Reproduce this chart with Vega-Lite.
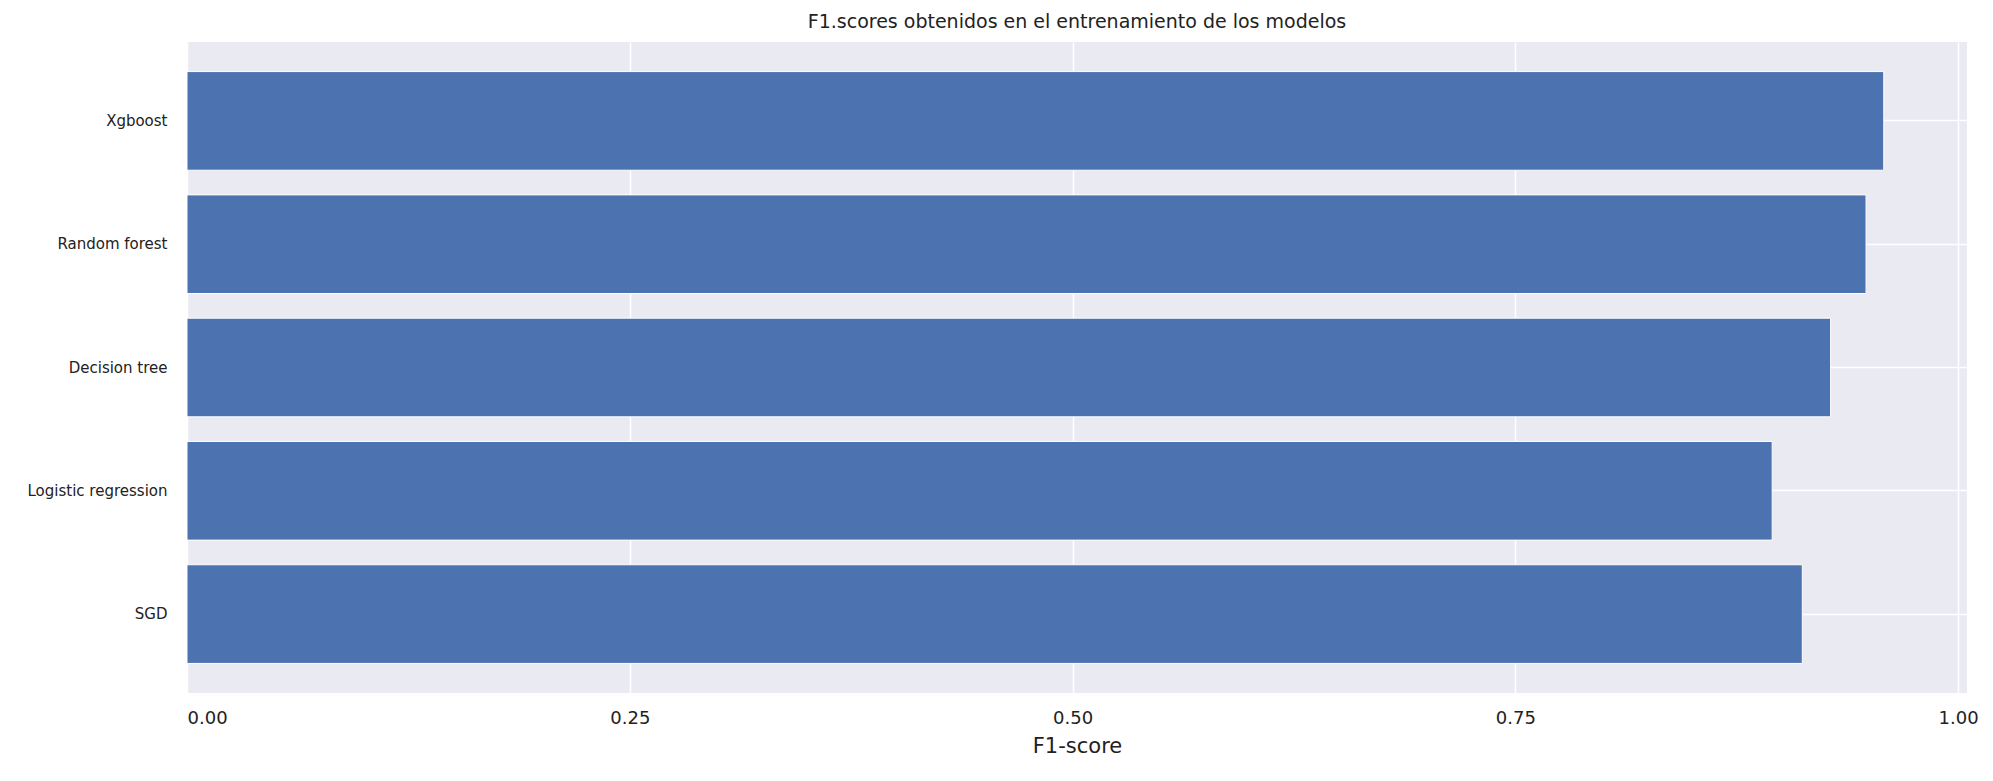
{
"$schema":"https://vega.github.io/schema/vega-lite/v6.json",
"width":1780,"height":651,
"autosize":{"type":"none"},
"padding":{"left":187,"right":26,"top":42,"bottom":88},
"background":"white",
"title":{"text":"F1.scores obtenidos en el entrenamiento de los modelos","fontSize":19,"font":"DejaVu Sans","fontWeight":"normal","color":"#222","offset":10},
"config":{"view":{"fill":"#EAEAF2","stroke":null},"axis":{"domain":false,"ticks":false,"gridColor":"white","gridWidth":1.5,"labelFont":"DejaVu Sans","titleFont":"DejaVu Sans","labelColor":"#222","titleColor":"#222","titleFontWeight":"normal"}},
"data":{"values":[
{"model":"Xgboost","f1":0.958},
{"model":"Random forest","f1":0.948},
{"model":"Decision tree","f1":0.928},
{"model":"Logistic regression","f1":0.895},
{"model":"SGD","f1":0.912}
]},
"mark":{"type":"bar","color":"#4C72B0","stroke":"white","strokeWidth":1},
"encoding":{
"y":{"field":"model","type":"nominal","sort":null,"scale":{"paddingInner":0.2,"paddingOuter":0.24},"title":null,"axis":{"grid":true,"bandPosition":0.5,"labelFontSize":15,"labelPadding":20}},
"x":{"field":"f1","type":"quantitative","scale":{"domain":[0,1.005],"nice":false},"title":"F1-score","axis":{"values":[0,0.25,0.5,0.75,1],"format":".2f","labelFontSize":18,"titleFontSize":21,"labelPadding":16,"titlePadding":8}}
}
}
